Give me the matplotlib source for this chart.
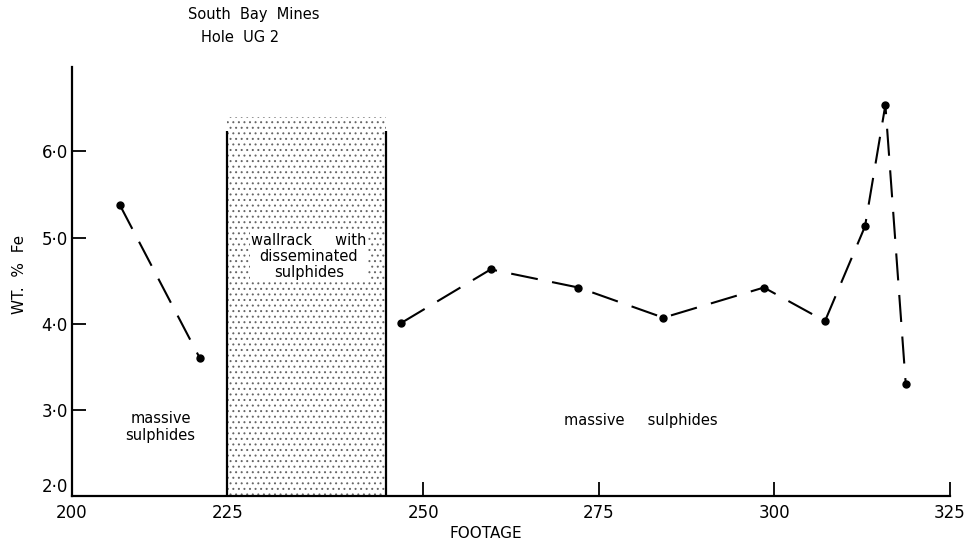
import numpy as np
import matplotlib.pyplot as plt
from matplotlib.patches import Rectangle

# footage (ft) and Fe wt%
footage_upper = [206.8, 218.2]
fe_upper = [5.38, 3.60]

footage_lower = [246.9, 259.6, 272.1, 284.2, 298.5, 307.2, 312.9, 315.8, 318.7]
fe_lower = [4.01, 4.63, 4.42, 4.07, 4.42, 4.03, 5.13, 6.54, 3.30]

# wallrock zone
wall_start, wall_end = 222.1, 244.7
wall_top = 6.40
wall_line_top = 6.24

xtick_pos = [200, 222.1, 250, 275, 300, 325]
xtick_labels = ["200", "225", "250", "275", "300", "325"]
ytick_pos = [2, 3, 4, 5, 6]
ytick_labels = ["2·0", "3·0", "4·0", "5·0", "6·0"]

plt.rcParams['font.family'] = ['DejaVu Sans']
plt.rcParams['hatch.linewidth'] = 0.7

fig = plt.figure(figsize=(9.7, 5.47), dpi=100)
ax = fig.add_axes([72 / 970, 51 / 547, 878 / 970, 429 / 547])

# stippled wallrock block
ax.add_patch(Rectangle((wall_start, 2.0), wall_end - wall_start, wall_top - 2.0,
                       facecolor='white', edgecolor='#666666', hatch='...',
                       linewidth=0, zorder=1))
ax.vlines([wall_start, wall_end], 2.0, wall_line_top, colors='black', linewidth=1.6, zorder=3)

dash = (0, (13, 7))
ax.plot(footage_upper, fe_upper, color='black', linewidth=1.5, linestyle=dash,
        marker='o', markersize=5, zorder=4)
ax.plot(footage_lower, fe_lower, color='black', linewidth=1.5, linestyle=dash,
        marker='o', markersize=5, zorder=4)

ax.text((wall_start + wall_end) / 2 + 0.3, 4.78, "wallrack     with\ndisseminated\nsulphides",
        ha='center', va='center', fontsize=10.5, linespacing=1.1, zorder=5,
        bbox=dict(facecolor='white', edgecolor='none', pad=1))
ax.text(212.6, 2.80, "massive\nsulphides", ha='center', va='center', fontsize=10.5, linespacing=1.2)
ax.text(281, 2.88, "massive     sulphides", ha='center', va='center', fontsize=10.5)

ax.set_xlim(200, 325)
ax.set_ylim(2.0, 6.98)
ax.set_xticks(xtick_pos)
ax.set_xticklabels(xtick_labels, fontsize=12)
ax.set_yticks(ytick_pos)
ax.set_yticklabels(ytick_labels, fontsize=12)
ax.tick_params(axis='both', direction='in', length=10, width=1.3)
ax.tick_params(axis='x', pad=6)
ax.tick_params(axis='y', pad=3)
ax.xaxis.get_major_ticks()[0].tick1line.set_visible(False)
ax.xaxis.get_major_ticks()[1].tick1line.set_visible(False)
ax.yaxis.get_major_ticks()[0].tick1line.set_visible(False)
# lift the 2·0 label a little so it clears the 200 below it
ax.get_yticklabels()[0].set_va('bottom')

for side in ['top', 'right']:
    ax.spines[side].set_visible(False)
for side in ['left', 'bottom']:
    ax.spines[side].set_linewidth(1.6)

fig.text(486 / 970, 1 - 533 / 547, "FOOTAGE", ha='center', va='center', fontsize=11)
fig.text(20 / 970, 1 - 274 / 547, "WT.  %  Fe", ha='center', va='center', rotation=90, fontsize=11)
fig.text(254 / 970, 1 - 15 / 547, "South  Bay  Mines", ha='center', va='center', fontsize=10.5)
fig.text(240 / 970, 1 - 37 / 547, "Hole  UG 2", ha='center', va='center', fontsize=10.5)

fig.savefig("out.png", dpi=100)
